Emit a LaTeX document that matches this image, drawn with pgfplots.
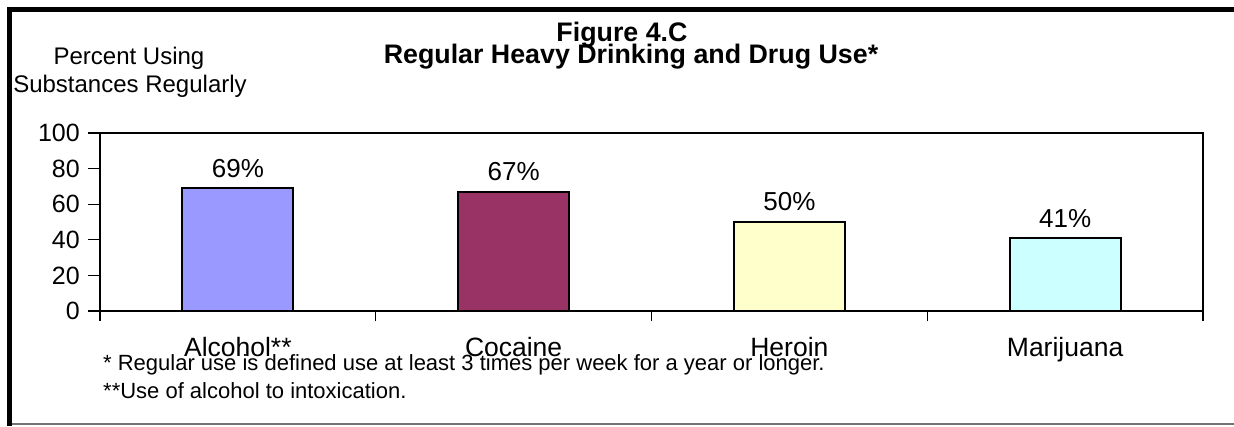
\documentclass[border=0pt]{standalone}
\usepackage{fontspec}
\setmainfont{Liberation Sans}
\usepackage{pgfplots}
\pgfplotsset{compat=1.18}
\definecolor{cAlc}{HTML}{9999FF}
\definecolor{cCoc}{HTML}{993366}
\definecolor{cHer}{HTML}{FFFFCC}
\definecolor{cMar}{HTML}{CCFFFF}
\newcommand{\fs}[1]{\fontsize{#1}{#1}\selectfont}
\begin{document}
\begin{tikzpicture}[x=1pt,y=1pt]
\useasboundingbox (0,0) rectangle (1234,426);
% frame
\draw[line width=5pt] (9.5,0) -- (9.5,416.5) -- (1234,416.5);
\draw[line width=1.5pt, black!55] (12,2) -- (1234,2);
% titles
\node[anchor=base, inner sep=0pt, font=\bfseries\fs{26.8}] at (622,384.3) {Figure 4.C};
\node[anchor=base, inner sep=0pt, font=\bfseries\fs{26.8}] at (631,362) {Regular Heavy Drinking and Drug Use*};
\node[anchor=base, inner sep=0pt, font=\fs{24}] at (129,361) {Percent Using};
\node[anchor=base, inner sep=0pt, font=\fs{24}] at (130,333.3) {Substances Regularly};
% footnotes
\node[anchor=base west, inner sep=0pt, font=\fs{22}] at (103,56) {* Regular use is defined use at least 3 times per week for a year or longer.};
\node[anchor=base west, inner sep=0pt, font=\fs{22}] at (103,28) {**Use of alcohol to intoxication.};
\begin{axis}[
  at={(100pt,115pt)}, anchor=south west,
  width=1103pt, height=178pt, scale only axis,
  xmin=0.5, xmax=4.5, ymin=0, ymax=100,
  ytick={0,20,40,60,80,100}, ytick pos=left,
  xtick={1,2,3,4}, xticklabels={Alcohol**,Cocaine,Heroin,Marijuana},
  xtick pos=bottom,
  minor xtick={0.5,1.5,2.5,3.5,4.5},
  major x tick style={draw=none},
  tick align=outside,
  major tick length=12pt, minor tick length=10pt,
  tick style={line width=1.2pt, black},
  axis line style={line width=2pt},
  /pgf/number format/assume math mode=true,
  yticklabel style={font=\fs{25}, anchor=east, inner sep=0pt, xshift=-8pt},
  xticklabel style={font=\fs{26.5}, anchor=base, inner sep=0pt, yshift=-33pt},
  ybar, bar width=111pt,
  nodes near coords={\pgfmathprintnumber{\pgfplotspointmeta}\%},
  every node near coord/.append style={font=\fs{26}, anchor=base, inner sep=0pt, yshift=11pt},
  clip=false,
]
\addplot[bar shift=0pt, fill=cAlc, draw=black, line width=2.2pt] coordinates {(1,69)};
\addplot[bar shift=0pt, fill=cCoc, draw=black, line width=2.2pt] coordinates {(2,67)};
\addplot[bar shift=0pt, fill=cHer, draw=black, line width=2.2pt] coordinates {(3,50)};
\addplot[bar shift=0pt, fill=cMar, draw=black, line width=2.2pt] coordinates {(4,41)};
\end{axis}
\end{tikzpicture}
\end{document}
